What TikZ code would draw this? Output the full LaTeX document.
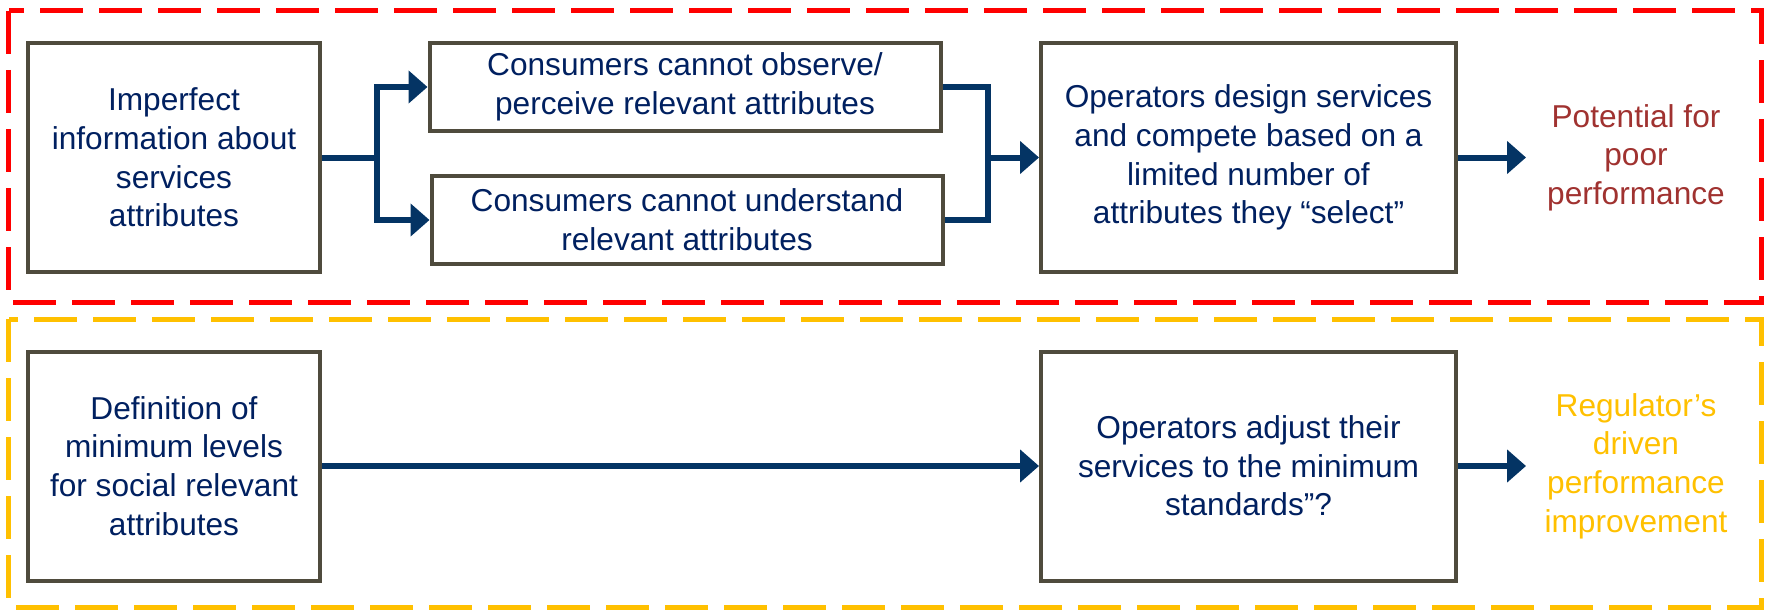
\documentclass[tikz,border=0pt]{standalone}
\usepackage{fontspec}
\setmainfont{Liberation Sans}
\usetikzlibrary{positioning,arrows.meta}

\definecolor{textnavy}{RGB}{0,32,96}
\definecolor{arrownavy}{RGB}{4,52,100}
\definecolor{boxgray}{RGB}{79,75,61}
\definecolor{poorred}{RGB}{160,50,48}
\definecolor{regyellow}{RGB}{255,192,0}

\begin{document}
\begin{tikzpicture}[node distance=2cm,on grid,
    font=\fontsize{18}{22}\selectfont,
    box/.style={draw=boxgray,line width=0.08cm,fill=white,align=center,text=textnavy},
    bigbox/.style={box,minimum width=5.84cm,minimum height=4.58cm},
    widebox/.style={box,minimum width=8.3cm,minimum height=4.58cm},
    flatbox/.style={box,minimum width=10.22cm,minimum height=1.77cm},
    outcome/.style={align=center},
    link/.style={draw=arrownavy,line width=0.12cm},
    flow/.style={link,-{Triangle[length=0.38cm,width=0.64cm]}},
    frame/.style={line width=0.1cm,dash pattern=on 0.86cm off 0.32cm}]
    \useasboundingbox (0,0) rectangle (35.34,12.2);
    % dashed frames
    \draw[frame,red] (0.18,11.98) rectangle (35.22,6.16);
    \draw[frame,regyellow] (0.18,5.82) rectangle (35.22,0.06);

    % upper row
    \node[bigbox] (info) at (3.48,9.05) {Imperfect\\information about\\services\\attributes};
    \node[flatbox] (observe) [above right=1.41cm and 10.22cm of info] {Consumers cannot observe/\\perceive relevant attributes};
    \node[flatbox] (understand) [below right=1.25cm and 10.26cm of info] {Consumers cannot understand\\relevant attributes};
    \node[widebox] (design) [right=21.49cm of info] {Operators design services\\and compete based on a\\limited number of\\attributes they “select”};
    \node[outcome,text=poorred] (poor) [right=7.75cm of design] {Potential for\\poor\\performance};

    % lower row
    \node[bigbox] (minimum) [below=6.17cm of info] {Definition of\\minimum levels\\for social relevant\\attributes};
    \node[widebox] (adjust) [right=21.49cm of minimum] {Operators adjust their\\services to the minimum\\standards”?};
    \node[outcome,text=regyellow] (regulator) [right=7.75cm of adjust] {Regulator’s\\driven\\performance\\improvement};

    \coordinate[right=1.1cm of info.east] (splitL);
    \coordinate[left=1.02cm of design.west] (joinR);
    \coordinate[right=1.36cm of design.east] (poorEnd);
    \coordinate[right=1.36cm of adjust.east] (regEnd);

    \draw[link] (info.east) -- (splitL);
    \draw[flow] (splitL) |- (observe.west);
    \draw[flow] (splitL) |- (understand.west);
    \draw[link] (observe.east) -| (joinR) |- (understand.east);
    \draw[flow] (joinR) -- (design.west);
    \draw[flow] (design.east) -- (poorEnd);
    \draw[flow] (minimum.east) -- (adjust.west);
    \draw[flow] (adjust.east) -- (regEnd);
\end{tikzpicture}
\end{document}
